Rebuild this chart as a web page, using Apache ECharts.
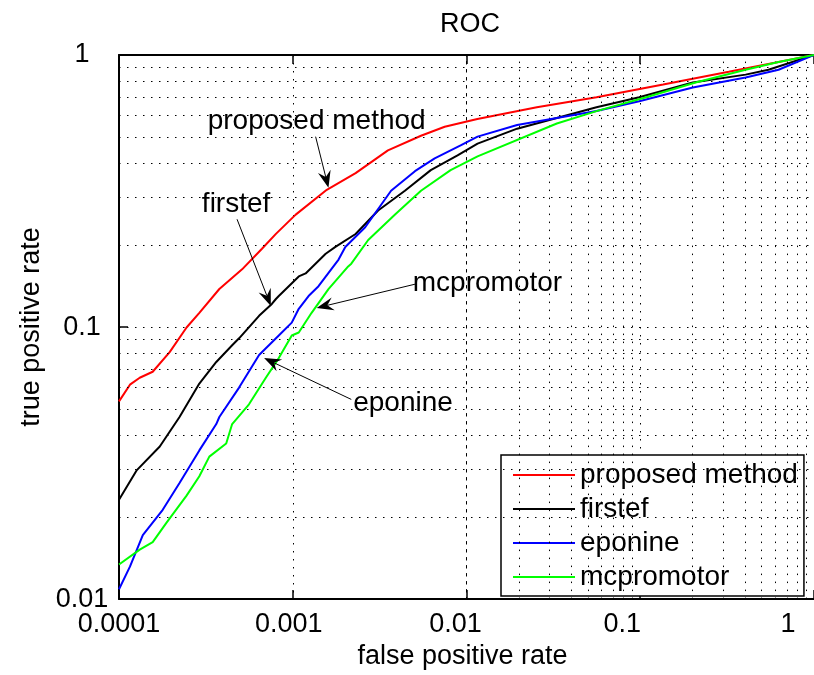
<!DOCTYPE html>
<html>
<head>
<meta charset="utf-8">
<script src="https://cdn.jsdelivr.net/npm/echarts@6/dist/echarts.min.js"></script>
<style>
html,body{margin:0;padding:0;background:#fff;}
#roc{width:814px;height:675px;}
</style>
</head>
<body>
<div id="roc"></div>
<script>
// ROC curves, [false positive rate, true positive rate]
var proposedRoc = [[1e-4,0.0533],[1.156e-4,0.0614],[1.316e-4,0.0651],[1.563e-4,0.0685],[1.957e-4,0.0809],[2.448e-4,0.0996],[2.90e-4,0.1128],[3.78e-4,0.138],[5.11e-4,0.163],[6.65e-4,0.194],[8.00e-4,0.22],[1.04e-3,0.259],[1.57e-3,0.3195],[2.30e-3,0.368],[3.53e-3,0.446],[5.47e-3,0.505],[7.49e-3,0.545],[0.01155,0.582],[0.0254,0.643],[0.0560,0.699],[0.1355,0.779],[0.323,0.868],[0.625,0.943],[1,1]];
var firstefRoc = [[1e-4,0.0232],[1.267e-4,0.0298],[1.717e-4,0.0364],[2.23e-4,0.0467],[2.90e-4,0.062],[3.63e-4,0.0744],[4.48e-4,0.0857],[4.91e-4,0.0909],[6.40e-4,0.11],[7.58e-4,0.1216],[8.00e-4,0.1268],[8.31e-4,0.130],[1.083e-3,0.1535],[1.186e-3,0.1574],[1.547e-3,0.186],[1.76e-3,0.197],[2.30e-3,0.2198],[3.10e-3,0.2683],[4.42e-3,0.317],[6.23e-3,0.3775],[8.88e-3,0.428],[0.01158,0.4725],[0.01956,0.536],[0.0560,0.643],[0.0986,0.699],[0.2007,0.792],[0.404,0.847],[0.547,0.883],[1,1]];
var eponineRoc = [[1e-4,0.01087],[1.156e-4,0.01316],[1.371e-4,0.0172],[1.785e-4,0.0213],[2.23e-4,0.0267],[2.90e-4,0.0352],[3.63e-4,0.044],[3.78e-4,0.0467],[4.91e-4,0.0599],[6.40e-4,0.0789],[8.31e-4,0.0931],[0.987e-3,0.1038],[1.083e-3,0.1167],[1.233e-3,0.130],[1.407e-3,0.1413],[1.835e-3,0.177],[2.007e-3,0.197],[2.612e-3,0.2328],[3.68e-3,0.317],[5.05e-3,0.374],[6.56e-3,0.417],[9.25e-3,0.465],[0.01158,0.501],[0.01956,0.553],[0.0560,0.622],[0.0986,0.676],[0.2007,0.760],[0.404,0.826],[0.625,0.883],[1,1]];
var mcpromotorRoc = [[1e-4,0.0134],[1.316e-4,0.0152],[1.563e-4,0.0162],[1.878e-4,0.0191],[2.448e-4,0.024],[2.90e-4,0.0283],[3.31e-4,0.0334],[4.14e-4,0.0373],[4.48e-4,0.044],[5.60e-4,0.052],[7.00e-4,0.0651],[8.31e-4,0.0769],[0.987e-3,0.0931],[1.083e-3,0.0955],[1.284e-3,0.1128],[1.605e-3,0.1378],[2.085e-3,0.167],[2.172e-3,0.171],[2.718e-3,0.2089],[3.88e-3,0.2594],[5.47e-3,0.317],[8.10e-3,0.3775],[0.01158,0.424],[0.0331,0.56],[0.0560,0.622],[0.1082,0.699],[0.2083,0.792],[0.404,0.883],[0.625,0.943],[1,1]];

var seriesNames = ['proposed method', 'firstef', 'eponine', 'mcpromotor'];
var seriesData = [proposedRoc, firstefRoc, eponineRoc, mcpromotorRoc];
var seriesColors = ['#ff0000', '#000000', '#0000ff', '#00ff00'];

var xTickLabels = ['0.0001', '0.001', '0.01', '0.1', '1'];
var yTickLabels = ['0.01', '0.1', '1'];

// text labels with arrows (data coords: text centre, arrow tail, arrow tip)
var notes = [
  {text: 'proposed method', at: [1.373e-3, 0.5726], from: [1.354e-3, 0.501], to: [1.605e-3, 0.325]},
  {text: 'firstef', at: [4.72e-4, 0.282], from: [4.78e-4, 0.249], to: [7.48e-4, 0.1196]},
  {text: 'mcpromotor', at: [0.0132, 0.1449], from: [5.05e-3, 0.1437], to: [1.373e-3, 0.1176]},
  {text: 'eponine', at: [4.31e-3, 0.0525], from: [2.172e-3, 0.0542], to: [6.84e-4, 0.0769]}
];

var FONT = 'Liberation Sans, Arial, Helvetica, sans-serif';
var dotted = {color: '#000', width: 1, type: [1.5, 6.5]};

// minor grid (2..9 within each decade)
var xMinor = [], yMinor = [];
for (var e = -4; e < 0; e++) for (var m = 2; m <= 9; m++) xMinor.push(m * Math.pow(10, e));
for (var e2 = -2; e2 < 0; e2++) for (var m2 = 2; m2 <= 9; m2++) yMinor.push(m2 * Math.pow(10, e2));
var minorLines = xMinor.map(function (v) { return {xAxis: v}; })
  .concat(yMinor.map(function (v) { return {yAxis: v}; }));

// x labels sit a little left of their ticks in the original
var xLabelRich = {};
[0, 8, 22, 36, 52].forEach(function (p, i) {
  xLabelRich['k' + i] = {fontFamily: FONT, fontSize: 27, color: '#000', padding: [0, p, 0, 0]};
});
function xLab(v) {
  var k = Math.round(Math.log10(v)) + 4;
  return xTickLabels[k] ? '{k' + k + '|' + xTickLabels[k] + '}' : '';
}
function yLab(v) { return yTickLabels[Math.round(Math.log10(v)) + 2] || ''; }

var chart = echarts.init(document.getElementById('roc'), null, {renderer: 'canvas'});

var series = [{
  type: 'line', data: [], silent: true, z: 1,
  markLine: {silent: true, symbol: ['none', 'none'], label: {show: false},
    lineStyle: dotted, emphasis: {disabled: true}, animation: false, data: minorLines}
}];
seriesNames.forEach(function (n, i) {
  series.push({
    name: n, type: 'line', data: seriesData[i], symbol: 'none', showSymbol: false,
    color: seriesColors[i], lineStyle: {color: seriesColors[i], width: 2}, z: 3 + i,
    xAxisIndex: 0, yAxisIndex: 0
  });
});

var option = {
  animation: false,
  backgroundColor: '#fff',
  title: {text: 'ROC', left: 465, top: 6, textAlign: 'center',
    textStyle: {fontFamily: FONT, fontSize: 27, fontWeight: 'normal', color: '#000'}},
  // the plot runs on past the right edge of the picture, as in the original crop
  grid: {left: 119, top: 55, width: 700, height: 553},
  legend: {
    orient: 'vertical', left: 501, top: 455, data: seriesNames, icon: 'rect',
    itemWidth: 62, itemHeight: 2, itemGap: 6, padding: [6, 6, 5, 12],
    backgroundColor: '#fff', borderColor: '#000', borderWidth: 1.5, borderRadius: 0,
    textStyle: {fontFamily: FONT, fontSize: 28, color: '#000'}
  },
  xAxis: [{
    type: 'log', logBase: 10, min: 1e-4, max: 1, position: 'bottom',
    name: 'false positive rate', nameLocation: 'middle', nameGap: 43,
    nameTextStyle: {fontFamily: FONT, fontSize: 27, color: '#000', padding: [0, 8, 0, 0]},
    axisLine: {lineStyle: {color: '#000', width: 2}},
    axisTick: {inside: true, length: 9, lineStyle: {color: '#000', width: 1.5}},
    axisLabel: {formatter: xLab, rich: xLabelRich, fontFamily: FONT, fontSize: 27, color: '#000', margin: 12},
    splitLine: {show: true, lineStyle: dotted}
  }, {
    type: 'log', logBase: 10, min: 1e-4, max: 1, position: 'top',
    axisLine: {lineStyle: {color: '#000', width: 2}},
    axisTick: {inside: true, length: 9, lineStyle: {color: '#000', width: 1.5}},
    axisLabel: {show: false}, splitLine: {show: false}
  }],
  yAxis: [{
    type: 'log', logBase: 10, min: 0.01, max: 1, position: 'left',
    name: 'true positive rate', nameLocation: 'middle', nameGap: 64, nameRotate: 90,
    nameTextStyle: {fontFamily: FONT, fontSize: 27, color: '#000'},
    axisLine: {lineStyle: {color: '#000', width: 2}},
    axisTick: {inside: true, length: 9, lineStyle: {color: '#000', width: 1.5}},
    axisLabel: {formatter: yLab, fontFamily: FONT, fontSize: 27, color: '#000', margin: 37, align: 'center'},
    splitLine: {show: true, lineStyle: dotted}
  }],
  series: series
};
chart.setOption(option);

// annotation arrows, placed through the axes
var gfx = [];
notes.forEach(function (n) {
  var c = chart.convertToPixel({xAxisIndex: 0, yAxisIndex: 0}, n.at);
  var a = chart.convertToPixel({xAxisIndex: 0, yAxisIndex: 0}, n.from);
  var b = chart.convertToPixel({xAxisIndex: 0, yAxisIndex: 0}, n.to);
  var dx = b[0] - a[0], dy = b[1] - a[1], L = Math.sqrt(dx * dx + dy * dy);
  var ux = dx / L, uy = dy / L, nx = -uy, ny = ux;
  var hl = 17, hw = 6.5, notch = 11;
  gfx.push({type: 'line', silent: true, z: 50,
    shape: {x1: a[0], y1: a[1], x2: b[0] - ux * notch, y2: b[1] - uy * notch},
    style: {stroke: '#000', lineWidth: 1}});
  gfx.push({type: 'polygon', silent: true, z: 50,
    shape: {points: [[b[0], b[1]],
      [b[0] - ux * hl + nx * hw, b[1] - uy * hl + ny * hw],
      [b[0] - ux * notch, b[1] - uy * notch],
      [b[0] - ux * hl - nx * hw, b[1] - uy * hl - ny * hw]]},
    style: {fill: '#000'}});
  gfx.push({type: 'text', silent: true, z: 50, x: c[0], y: c[1],
    style: {text: n.text, fill: '#000', font: '28px ' + FONT,
      align: 'center', verticalAlign: 'middle', textAlign: 'center', textVerticalAlign: 'middle'}});
});
chart.setOption({graphic: {elements: gfx}});
</script>
</body>
</html>
